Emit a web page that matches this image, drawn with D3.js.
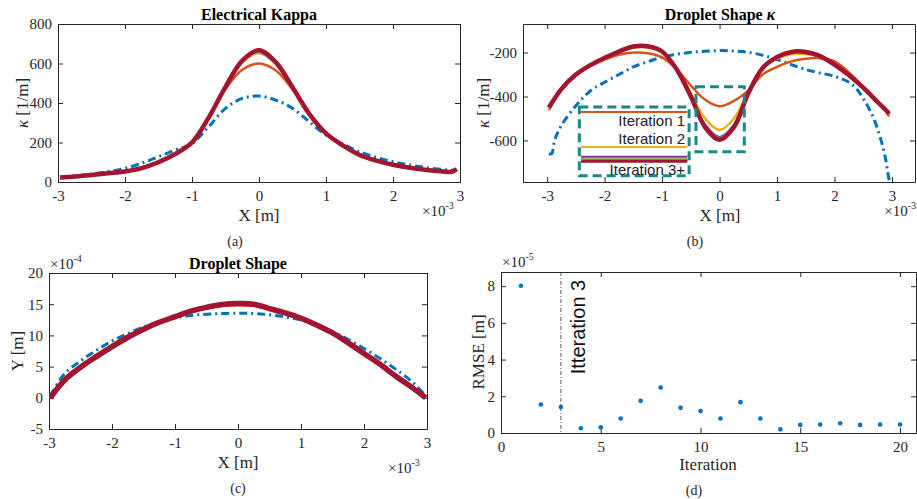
<!DOCTYPE html>
<html>
<head>
<meta charset="utf-8">
<script src="https://cdn.jsdelivr.net/npm/d3@7"></script>
<style>
  body { margin: 0; background: #fff; }
  svg { display: block; }
</style>
</head>
<body>
<svg id="fig" width="917" height="499"></svg>
<script>
// x positions are in units of 1e-3 m (axis shows x10^-3)
const xGrid = [-2.97, -2.75, -2.5, -2.25, -2, -1.75, -1.5, -1.25, -1, -0.75, -0.5, -0.25, 0,
               0.25, 0.5, 0.75, 1, 1.25, 1.5, 1.75, 2, 2.25, 2.5, 2.75, 2.88, 2.95];

// (a) electrical kappa [1/m]
const kapE_init = [24, 30, 40, 53, 69, 95, 128, 162, 195, 280, 373, 423, 435, 415, 373, 305, 238, 194, 153, 125, 103, 86, 73, 63, 60, 60];
const kapE_it1  = [23, 29, 37, 46, 56, 74, 106, 148, 205, 322, 470, 568, 600, 565, 470, 345, 250, 190, 142, 112, 90, 75, 63, 55, 55, 62];
const kapE_it2  = [23, 28, 36, 45, 54, 71, 102, 143, 202, 325, 478, 605, 652, 598, 476, 345, 248, 187, 139, 109, 88, 73, 62, 54, 53, 64];
const kapE_it3  = [23, 28, 36, 44, 53, 70, 101, 142, 201, 326, 480, 612, 660, 603, 478, 345, 247, 186, 138, 108, 87, 72, 61, 53, 52, 65];
const kapE_it4  = [23, 28, 36, 44, 53, 70, 101, 142, 201, 326, 481, 613, 663, 604, 479, 345, 247, 186, 138, 108, 87, 72, 61, 53, 52, 65];
const kapE_it5  = [23, 28, 36, 44, 53, 70, 101, 142, 201, 326, 479, 610, 656, 601, 478, 345, 247, 186, 138, 108, 87, 72, 61, 53, 52, 65];
const kapE_last = [23, 28, 36, 44, 53, 70, 100, 141, 200, 327, 482, 615, 667, 607, 480, 345, 246, 185, 137, 108, 87, 72, 61, 53, 52, 66];

// (b) droplet shape kappa [1/m]
const xInitB   = [-2.97, -2.92, -2.87, -2.75, -2.5, -2.25, -2, -1.75, -1.5, -1.25, -1, -0.75, -0.5, -0.25, 0,
                  0.25, 0.5, 0.75, 1, 1.25, 1.5, 1.75, 2, 2.25, 2.4, 2.5, 2.6, 2.7, 2.8, 2.87, 2.93, 2.98];
const kapS_init = [-661, -660, -600, -531, -442, -375, -335, -300, -265, -242, -220, -208, -199, -194, -191,
                   -193, -199, -212, -232, -255, -277, -293, -308, -335, -370, -410, -455, -512, -590, -660, -750, -830];
const kapS_it1  = [-462, -370, -305, -262, -232, -210, -200, -203, -222, -275, -350, -415, -444, -420, -372, -300, -265, -240, -228, -226, -240, -290, -355, -425, -462, -490];
const kapS_it2  = [-455, -367, -302, -259, -227, -198, -178, -177, -198, -270, -385, -500, -552, -500, -378, -272, -228, -208, -206, -220, -254, -300, -358, -423, -458, -482];
const kapS_it3  = [-451, -365, -300, -257, -224, -195, -172, -171, -195, -274, -397, -530, -585, -530, -383, -270, -221, -198, -198, -216, -255, -303, -360, -425, -458, -479];
const kapS_it4  = [-450, -365, -300, -257, -224, -195, -172, -171, -195, -275, -399, -536, -592, -536, -384, -270, -220, -197, -197, -216, -255, -303, -360, -425, -458, -478];
const kapS_it5  = [-450, -365, -300, -257, -224, -195, -172, -171, -195, -275, -398, -534, -590, -534, -384, -270, -220, -197, -197, -216, -255, -303, -360, -425, -458, -478];
const kapS_last = [-450, -365, -300, -257, -224, -195, -172, -171, -195, -275, -400, -540, -597, -540, -385, -270, -220, -197, -197, -216, -255, -303, -360, -425, -458, -478];

// (c) droplet shape, Y in units of 1e-4 m
const xGridC   = [-2.98, -2.75, -2.5, -2.25, -2, -1.75, -1.5, -1.25, -1, -0.75, -0.5, -0.25, 0,
                  0.25, 0.5, 0.75, 1, 1.25, 1.5, 1.75, 2, 2.25, 2.5, 2.75, 2.98];
const shape_init = [0.3, 3.9, 5.9, 7.6, 9.1, 10.3, 11.35, 12.2, 12.8, 13.2, 13.4, 13.5, 13.55, 13.5, 13.3, 12.95, 12.45, 11.6, 10.6, 9.35, 7.9, 6.35, 4.6, 2.7, 0.3];
const shape_it1  = [0, 2.8, 4.85, 6.6, 8.25, 9.75, 11.05, 12.1, 13.0, 13.8, 14.35, 14.75, 14.85, 14.75, 14.15, 13.45, 12.6, 11.5, 10.2, 8.6, 6.95, 5.25, 3.4, 1.7, 0];
const shape_it2  = [0, 2.8, 4.85, 6.55, 8.15, 9.65, 10.95, 12.05, 12.95, 13.85, 14.45, 14.9, 15.05, 14.95, 14.3, 13.6, 12.75, 11.65, 10.4, 8.8, 7.1, 5.4, 3.5, 1.75, 0];
const shape_it3  = [0, 2.8, 4.85, 6.6, 8.2, 9.7, 11.0, 12.1, 13.0, 13.9, 14.5, 14.95, 15.1, 15.0, 14.3, 13.6, 12.75, 11.65, 10.4, 8.8, 7.1, 5.4, 3.5, 1.75, 0];
const shape_it4  = [0, 2.8, 4.85, 6.6, 8.2, 9.7, 11.0, 12.1, 13.0, 13.9, 14.5, 14.95, 15.1, 15.0, 14.35, 13.65, 12.8, 11.7, 10.45, 8.85, 7.15, 5.45, 3.55, 1.8, 0];
const shape_it5  = [0, 2.6, 4.6, 6.3, 7.9, 9.4, 10.75, 11.9, 12.85, 13.75, 14.4, 14.85, 15.0, 14.95, 14.35, 13.7, 12.9, 11.85, 10.6, 9.0, 7.3, 5.6, 3.75, 1.95, 0];
const shape_last = [0, 2.85, 4.9, 6.6, 8.2, 9.7, 11.0, 12.1, 13.0, 13.9, 14.5, 14.95, 15.1, 15.0, 14.3, 13.6, 12.75, 11.65, 10.4, 8.8, 7.1, 5.4, 3.5, 1.75, 0];

// (d) RMSE per iteration, units of 1e-5 m
const iterations = d3.range(1, 21);
const rmse = [8.02, 1.55, 1.42, 0.26, 0.31, 0.79, 1.75, 2.48, 1.37, 1.2, 0.79, 1.68, 0.79, 0.2, 0.44, 0.46, 0.53, 0.44, 0.46, 0.46];

const legendLabels = ['Iteration 1', 'Iteration 2', 'Iteration 3+'];

const SERIF = '"Liberation Serif", "Times New Roman", serif';
const SANS = '"Liberation Sans", Arial, sans-serif';
const INK = '#262626';
const C = {
  init: '#0072BD', it1: '#D95319', it2: '#EDB120', it3: '#7E2F8E',
  it4: '#77AC30', it5: '#4DBEEE', last: '#A2142F', box: '#17898a'
};

const svg = d3.select('#fig');

// MATLAB-ish axes box: inward ticks on all four sides
function panel(cfg) {
  const w = cfg.right - cfg.left, h = cfg.bottom - cfg.top;
  const g = svg.append('g').attr('transform', `translate(${cfg.left},${cfg.top})`);
  const x = d3.scaleLinear().domain(cfg.xDomain).range([0, w]);
  const y = d3.scaleLinear().domain(cfg.yDomain).range([h, 0]);
  const fmt = d => String(d);

  g.append('g').attr('transform', `translate(0,${h})`)
    .call(d3.axisBottom(x).tickValues(cfg.xTicks).tickSize(-5).tickSizeOuter(0).tickPadding(8).tickFormat(fmt));
  g.append('g')
    .call(d3.axisTop(x).tickValues(cfg.xTicks).tickSize(-5).tickSizeOuter(0).tickFormat(''));
  g.append('g')
    .call(d3.axisLeft(y).tickValues(cfg.yTicks).tickSize(-5).tickSizeOuter(0).tickPadding(6).tickFormat(fmt));
  g.append('g').attr('transform', `translate(${w},0)`)
    .call(d3.axisRight(y).tickValues(cfg.yTicks).tickSize(-5).tickSizeOuter(0).tickFormat(''));

  g.selectAll('.domain').attr('stroke', INK).attr('stroke-width', 1);
  g.selectAll('.tick line').attr('stroke', INK);
  g.selectAll('.tick text').attr('fill', INK).attr('font-family', SERIF).attr('font-size', 15);

  g.append('clipPath').attr('id', 'clip-' + cfg.name)
    .append('rect').attr('width', w).attr('height', h);
  const plot = g.append('g').attr('clip-path', `url(#clip-${cfg.name})`);
  return {g, plot, x, y, w, h};
}

function series(p, xs, ys, color, width, dash) {
  const line = d3.line()
    .x((d, i) => p.x(xs[i]))
    .y(d => p.y(d))
    .curve(d3.curveCatmullRom.alpha(0.5));
  p.plot.append('path')
    .datum(ys)
    .attr('d', line)
    .attr('fill', 'none')
    .attr('stroke', color)
    .attr('stroke-width', width)
    .attr('stroke-linejoin', 'round')
    .attr('stroke-dasharray', dash || null);
}

function label(x, y, txt, opts) {
  opts = opts || {};
  const t = svg.append('text')
    .attr('x', x).attr('y', y)
    .attr('text-anchor', opts.anchor || 'middle')
    .attr('font-family', opts.font || SERIF)
    .attr('font-size', opts.size || 17)
    .attr('font-weight', opts.bold ? 'bold' : null)
    .attr('fill', opts.fill || INK);
  if (opts.rotate) t.attr('transform', `rotate(-90,${x},${y})`);
  if (opts.italicTail) {
    t.append('tspan').text(txt);
    t.append('tspan').attr('font-style', 'italic').text(opts.italicTail);
  } else if (opts.italicHead) {
    t.append('tspan').attr('font-style', 'italic').text(opts.italicHead);
    t.append('tspan').text(txt);
  } else {
    t.text(txt);
  }
  return t;
}

function exponent(x, y, pow, anchor) {
  const t = svg.append('text')
    .attr('x', x).attr('y', y)
    .attr('text-anchor', anchor || 'start')
    .attr('font-family', SERIF).attr('font-size', 15).attr('fill', INK);
  t.append('tspan').text('\u00d710');
  t.append('tspan').attr('font-size', 10).attr('dy', -7).text(pow);
}

const DASHDOT = '8,4,2,4';

// ---------- (a) Electrical Kappa ----------
const pa = panel({name: 'a', left: 58, right: 460, top: 24, bottom: 182,
  xDomain: [-3, 3], yDomain: [0, 800], xTicks: [-3, -2, -1, 0, 1, 2, 3], yTicks: [0, 200, 400, 600, 800]});
series(pa, xGrid, kapE_init, C.init, 3, DASHDOT);
series(pa, xGrid, kapE_it1, C.it1, 2.5);
series(pa, xGrid, kapE_it2, C.it2, 2.5);
series(pa, xGrid, kapE_it3, C.it3, 2.5);
series(pa, xGrid, kapE_it4, C.it4, 2.5);
series(pa, xGrid, kapE_it5, C.it5, 2.5);
series(pa, xGrid, kapE_last, C.last, 4.5);
label(259, 20, 'Electrical Kappa', {bold: true, size: 16, fill: '#000'});
label(259, 221, 'X [m]');
label(28, 103, ' [1/m]', {rotate: true, italicHead: '\u03ba'});
exponent(422, 216, '-3');
label(235, 246, '(a)', {size: 14});

// ---------- (b) Droplet Shape kappa ----------
const pb = panel({name: 'b', left: 523, right: 915, top: 24, bottom: 182,
  xDomain: [-3.42, 3.4], yDomain: [-789, -70], xTicks: [-3, -2, -1, 0, 1, 2, 3], yTicks: [-600, -400, -200]});
series(pb, xInitB, kapS_init, C.init, 3, DASHDOT);
series(pb, xGrid, kapS_it1, C.it1, 2.5);
series(pb, xGrid, kapS_it2, C.it2, 2.5);
series(pb, xGrid, kapS_it3, C.it3, 2.5);
series(pb, xGrid, kapS_it4, C.it4, 2.5);
series(pb, xGrid, kapS_it5, C.it5, 2.5);
series(pb, xGrid, kapS_last, C.last, 4.5);

// inset boxes + legend drawn in data coordinates
const legX = [-2.44, -0.53];
const legBox = pb.g.append('g');
legBox.append('rect')
  .attr('x', pb.x(legX[0])).attr('y', pb.y(-448))
  .attr('width', pb.x(legX[1]) - pb.x(legX[0])).attr('height', pb.y(-761) - pb.y(-448))
  .attr('fill', 'none').attr('stroke', C.box).attr('stroke-width', 3).attr('stroke-dasharray', '9,5');
legBox.append('rect')
  .attr('x', pb.x(-0.41)).attr('y', pb.y(-356))
  .attr('width', pb.x(0.43) - pb.x(-0.41)).attr('height', pb.y(-651) - pb.y(-356))
  .attr('fill', 'none').attr('stroke', C.box).attr('stroke-width', 3).attr('stroke-dasharray', '9,5');
const legLines = [
  {c: C.it1, v: -470, w: 2}, {c: C.it2, v: -630, w: 2}, {c: C.it3, v: -674, w: 2},
  {c: C.it4, v: -686, w: 2}, {c: C.it5, v: -690, w: 1.5}, {c: C.last, v: -695, w: 3}
];
legLines.forEach(l => {
  legBox.append('line')
    .attr('x1', pb.x(legX[0] + 0.03)).attr('x2', pb.x(legX[1] - 0.03))
    .attr('y1', pb.y(l.v)).attr('y2', pb.y(l.v))
    .attr('stroke', l.c).attr('stroke-width', l.w);
});
const legTextV = [-509, -591, -733];
legendLabels.forEach((t, i) => {
  legBox.append('text')
    .attr('x', pb.x(-0.6)).attr('y', pb.y(legTextV[i])).attr('dy', '0.35em')
    .attr('text-anchor', 'end').attr('font-family', SANS).attr('font-size', 15).attr('fill', '#222')
    .text(t);
});

label(720, 20, 'Droplet Shape ', {bold: true, size: 16, fill: '#000', italicTail: '\u03ba'});
label(720, 221, 'X [m]');
label(489, 103, ' [1/m]', {rotate: true, italicHead: '\u03ba'});
exponent(916, 216, '-3', 'end');
label(695, 246, '(b)', {size: 14});

// ---------- (c) Droplet Shape ----------
const pc = panel({name: 'c', left: 49, right: 427, top: 273, bottom: 429,
  xDomain: [-3, 3], yDomain: [-5, 20], xTicks: [-3, -2, -1, 0, 1, 2, 3], yTicks: [-5, 0, 5, 10, 15, 20]});
series(pc, xGridC, shape_init, C.init, 3, DASHDOT);
series(pc, xGridC, shape_it5, C.it5, 2.5);
series(pc, xGridC, shape_it1, C.it1, 2.5);
series(pc, xGridC, shape_it2, C.it2, 2.5);
series(pc, xGridC, shape_it3, C.it3, 2.5);
series(pc, xGridC, shape_it4, C.it4, 2.5);
series(pc, xGridC, shape_last, C.last, 5.5);
label(238, 269, 'Droplet Shape', {bold: true, size: 16, fill: '#000'});
label(238, 468, 'X [m]');
label(23, 351, 'Y [m]', {rotate: true});
exponent(50, 269, '-4');
exponent(388, 473, '-3');
label(238, 493, '(c)', {size: 14});

// ---------- (d) RMSE ----------
const pd = panel({name: 'd', left: 501, right: 916, top: 272, bottom: 433,
  xDomain: [0, 20.8], yDomain: [0, 8.77], xTicks: [0, 5, 10, 15, 20], yTicks: [0, 2, 4, 6, 8]});
pd.plot.append('line')
  .attr('x1', pd.x(3)).attr('x2', pd.x(3)).attr('y1', 0).attr('y2', pd.h)
  .attr('stroke', '#333').attr('stroke-width', 0.8).attr('stroke-dasharray', '4,2,1,2');
pd.plot.selectAll('circle').data(rmse).enter().append('circle')
  .attr('cx', (d, i) => pd.x(iterations[i]))
  .attr('cy', d => pd.y(d))
  .attr('r', 2.3)
  .attr('fill', C.init);
label(585, 327, 'Itteration 3', {rotate: true, font: SANS, size: 20, fill: '#111'});
label(708, 470, 'Iteration');
label(484, 352, 'RMSE [m]', {rotate: true});
exponent(502, 267, '-5');
label(694, 495, '(d)', {size: 14});
</script>
</body>
</html>
